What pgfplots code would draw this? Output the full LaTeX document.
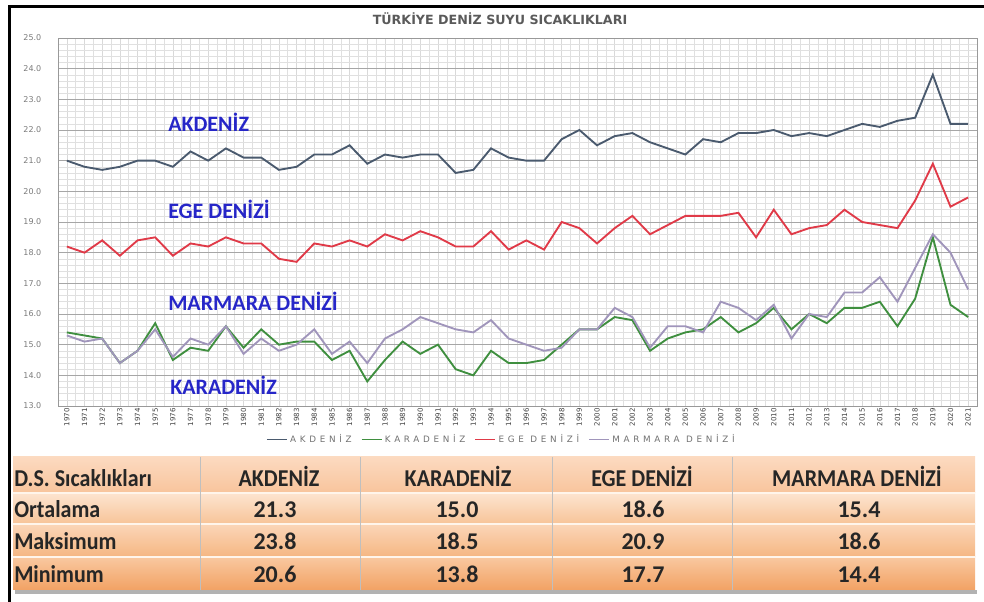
\documentclass[border=0pt]{standalone}
\usepackage{fontspec}
\usepackage{graphicx}
\usepackage{pgfplots}
\usepackage{pgfplotstable}
\pgfplotsset{compat=1.18}
\setmainfont{DejaVu Sans}
\newfontfamily\carlito{Carlito}
\newfontfamily\dejavu{DejaVu Sans}
\newfontfamily\legfont[LetterSpace=42]{DejaVu Sans}
\definecolor{akd}{HTML}{4A5A6E}
\definecolor{kara}{HTML}{3F8F3F}
\definecolor{ege}{HTML}{E03A48}
\definecolor{marm}{HTML}{A095BB}
\definecolor{lblue}{HTML}{2626C8}
\definecolor{tickc}{HTML}{7A7A7A}
\definecolor{legtext}{HTML}{707070}
\definecolor{titlec}{HTML}{5A5A5A}

\pgfplotstableread{
year akd kara ege marm
1970 21.0 15.4 18.2 15.3
1971 20.8 15.3 18.0 15.1
1972 20.7 15.2 18.4 15.2
1973 20.8 14.4 17.9 14.4
1974 21.0 14.8 18.4 14.8
1975 21.0 15.7 18.5 15.5
1976 20.8 14.5 17.9 14.6
1977 21.3 14.9 18.3 15.2
1978 21.0 14.8 18.2 15.0
1979 21.4 15.6 18.5 15.6
1980 21.1 14.9 18.3 14.7
1981 21.1 15.5 18.3 15.2
1982 20.7 15.0 17.8 14.8
1983 20.8 15.1 17.7 15.0
1984 21.2 15.1 18.3 15.5
1985 21.2 14.5 18.2 14.7
1986 21.5 14.8 18.4 15.1
1987 20.9 13.8 18.2 14.4
1988 21.2 14.5 18.6 15.2
1989 21.1 15.1 18.4 15.5
1990 21.2 14.7 18.7 15.9
1991 21.2 15.0 18.5 15.7
1992 20.6 14.2 18.2 15.5
1993 20.7 14.0 18.2 15.4
1994 21.4 14.8 18.7 15.8
1995 21.1 14.4 18.1 15.2
1996 21.0 14.4 18.4 15.0
1997 21.0 14.5 18.1 14.8
1998 21.7 15.0 19.0 14.9
1999 22.0 15.5 18.8 15.5
2000 21.5 15.5 18.3 15.5
2001 21.8 15.9 18.8 16.2
2002 21.9 15.8 19.2 15.9
2003 21.6 14.8 18.6 14.9
2004 21.4 15.2 18.9 15.6
2005 21.2 15.4 19.2 15.6
2006 21.7 15.5 19.2 15.4
2007 21.6 15.9 19.2 16.4
2008 21.9 15.4 19.3 16.2
2009 21.9 15.7 18.5 15.8
2010 22.0 16.2 19.4 16.3
2011 21.8 15.5 18.6 15.2
2012 21.9 16.0 18.8 16.0
2013 21.8 15.7 18.9 15.9
2014 22.0 16.2 19.4 16.7
2015 22.2 16.2 19.0 16.7
2016 22.1 16.4 18.9 17.2
2017 22.3 15.6 18.8 16.4
2018 22.4 16.5 19.7 17.5
2019 23.8 18.5 20.9 18.6
2020 22.2 16.3 19.5 18.0
2021 22.2 15.9 19.8 16.8
}\seadata

\begin{document}
\begin{tikzpicture}
\begin{scope}[x=0.75pt,y=0.75pt]
\path (0,0) rectangle (984,602);
% outer frame
\fill[black] (8,0) rectangle (11,597);
\fill[black] (8,594) rectangle (984,597);
% title
\node[anchor=base,font=\dejavu\bfseries\fontsize{9.5}{11}\selectfont,text=titlec,inner sep=0pt] at (500,577) {TÜRKİYE DENİZ SUYU SICAKLIKLARI};
% table shadow
\fill[black!30] (15,8) rectangle (977,12);
% table rows
\shade[top color={rgb,255:red,252;green,218;blue,192},bottom color={rgb,255:red,248;green,196;blue,156}] (13,109) rectangle (975,145);
\shade[top color={rgb,255:red,253;green,228;blue,208},bottom color={rgb,255:red,247;green,196;blue,152}] (13,78) rectangle (975,109);
\shade[top color={rgb,255:red,251;green,214;blue,184},bottom color={rgb,255:red,245;green,182;blue,130}] (13,45) rectangle (975,78);
\shade[top color={rgb,255:red,249;green,200;blue,160},bottom color={rgb,255:red,242;green,162;blue,100}] (13,12) rectangle (975,45);
\draw[white!60!orange!20,line width=0.8pt] (13,109) -- (975,109) (13,78) -- (975,78) (13,45) -- (975,45);
\draw[black!25,line width=0.5pt] (200,12) -- (200,145) (360,12) -- (360,145) (552,12) -- (552,145) (732,12) -- (732,145);
% table text
\begin{scope}[every node/.style={inner sep=0pt,anchor=base,text=black!85}]
\def\tw{\carlito\bfseries\fontsize{16.5}{18}\selectfont}
\def\tn{\carlito\bfseries\fontsize{18}{20}\selectfont}
\node[anchor=base west] at (14,115) {\tw\scalebox{1}[1.1]{D.S. Sıcaklıkları}};
\node at (279,115) {\tw\scalebox{1}[1.1]{AKDENİZ}};
\node at (458,115) {\tw\scalebox{1}[1.1]{KARADENİZ}};
\node at (642,115) {\tw\scalebox{1}[1.1]{EGE DENİZİ}};
\node at (857,115) {\tw\scalebox{1}[1.1]{MARMARA DENİZİ}};
\node[anchor=base west] at (14,84) {\tw\scalebox{1}[1.1]{Ortalama}};
\node[anchor=base west] at (14,52.5) {\tw\scalebox{1}[1.1]{Maksimum}};
\node[anchor=base west] at (14,19) {\tw\scalebox{1}[1.1]{Minimum}};
\node at (275,84) {\tn 21.3};
\node at (457,84) {\tn 15.0};
\node at (643,84) {\tn 18.6};
\node at (859,84) {\tn 15.4};
\node at (275,52.5) {\tn 23.8};
\node at (457,52.5) {\tn 18.5};
\node at (643,52.5) {\tn 20.9};
\node at (859,52.5) {\tn 18.6};
\node at (275,19) {\tn 20.6};
\node at (457,19) {\tn 13.8};
\node at (643,19) {\tn 17.7};
\node at (859,19) {\tn 14.4};
\end{scope}
\end{scope}

\begin{axis}[
  at={(43.5pt,147pt)}, anchor=south west,
  width=689.25pt, height=276pt, scale only axis,
  xmin=1969.5, xmax=2021.5, ymin=13, ymax=25,
  xtick=data, ytick={13,14,15,16,17,18,19,20,21,22,23,24,25},
  minor x tick num=1, minor y tick num=4,
  major tick length=0pt, minor tick length=0pt,
  grid=both,
  every major x grid/.style={color=black!15,line width=0.4pt},
  every minor x grid/.style={color=black!12,line width=0.4pt},
  every major y grid/.style={color=black!35,line width=0.5pt},
  every minor y grid/.style={color=black!12,line width=0.4pt},
  axis line style={color=black!40},
  /pgf/number format/assume math mode=true,
  xticklabel style={rotate=90,anchor=east,font=\dejavu\fontsize{5.3}{6}\selectfont,text=black!75,/pgf/number format/1000 sep={},inner sep=1.5pt},
  yticklabel style={font=\dejavu\fontsize{6}{7}\selectfont,text=tickc,xshift=-9pt,/pgf/number format/.cd,fixed,fixed zerofill,precision=1},
  legend style={at={(axis description cs:0.483,-0.092)},anchor=center,draw=none,fill=none,
     font=\legfont\fontsize{6.6}{7.5}\selectfont,text=legtext,inner sep=0pt,
     /tikz/every even column/.append style={column sep=5pt}},
  legend columns=4,
  legend image code/.code={\draw[#1,line width=0.9pt] (0pt,0pt) -- (15pt,0pt);},
  clip=false,
]
\addplot[akd,line width=1.4pt] table[x=year,y=akd] {\seadata};
\addplot[kara,line width=1.4pt] table[x=year,y=kara] {\seadata};
\addplot[ege,line width=1.4pt] table[x=year,y=ege] {\seadata};
\addplot[marm,line width=1.4pt] table[x=year,y=marm] {\seadata};
\legend{AKDENİZ,KARADENİZ,EGE DENİZİ,MARMARA DENİZİ}
\end{axis}

\begin{scope}[x=0.75pt,y=0.75pt,every node/.style={inner sep=0pt,anchor=base west,text=lblue,font=\carlito\bfseries\fontsize{16.5}{18}\selectfont}]
\node at (168,470) {AKDENİZ};
\node at (168,383) {EGE DENİZİ};
\node at (168,291.3) {MARMARA DENİZİ};
\node at (170,207) {KARADENİZ};
\end{scope}
\end{tikzpicture}
\end{document}
